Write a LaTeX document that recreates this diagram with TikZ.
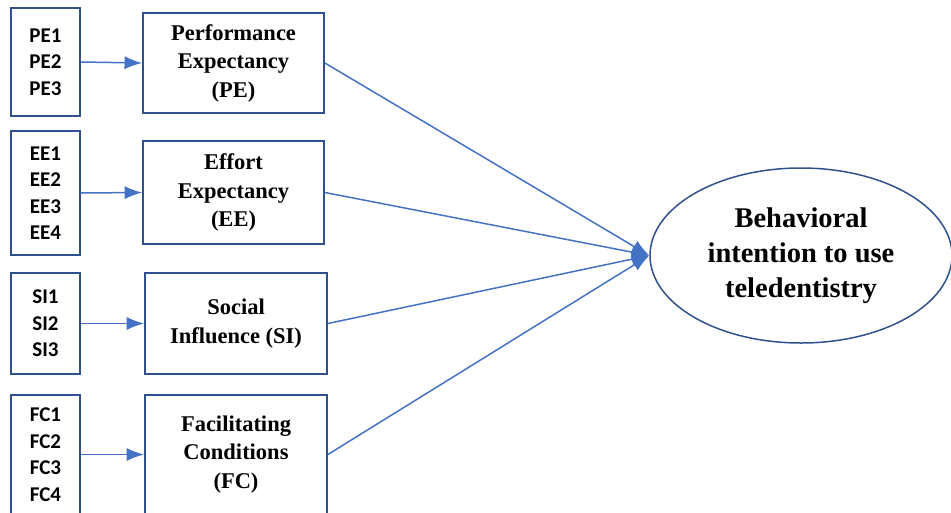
\documentclass[tikz,border=0pt]{standalone}
\usepackage{fontspec}
\setmainfont{Liberation Serif}
\newfontfamily\itemfont{Carlito}
\usepackage{tikz}
\usetikzlibrary{arrows.meta,shapes.geometric}
\definecolor{boxblue}{RGB}{47,82,143}
\definecolor{linkblue}{RGB}{68,114,196}
\tikzset{every picture/.style={/utils/exec={\bfseries}}}
\tikzstyle{link}=[linkblue,line width=1.5pt]
\tikzstyle{arrow}=[link,-{Latex[scale=1.8]}]
\tikzstyle{itembox}=[draw=boxblue,line width=1.8pt,minimum width=69pt,inner sep=0pt,
  align=left,font=\fontsize{21}{26.5}\itemfont\bfseries]
\tikzstyle{factorbox}=[draw=boxblue,line width=1.8pt,inner sep=0pt,align=center,
  font=\fontsize{22.5}{28.5}\selectfont\bfseries]
\tikzstyle{outcome}=[ellipse,draw=boxblue,line width=1.5pt,inner sep=0pt,align=center,
  minimum width=302pt,minimum height=175pt,font=\fontsize{28.5}{35}\selectfont\bfseries]

\begin{document}
\begin{tikzpicture}[x=1pt,y=-1pt]
    \useasboundingbox (0,0) rectangle (951,512);
    \clip (0,0) rectangle (951,512);
    % indicators
    \node[itembox,minimum height=108pt] (PE-items) at (45.5,62)  {PE1\\PE2\\PE3};
    \node[itembox,minimum height=124pt] (EE-items) at (45.5,193) {EE1\\EE2\\EE3\\EE4};
    \node[itembox,minimum height=101pt] (SI-items) at (45.5,323.5) {SI1\\SI2\\SI3};
    \node[itembox,minimum height=119pt] (FC-items) at (45.5,454.5) {FC1\\FC2\\FC3\\FC4};
    % constructs
    \node[factorbox,minimum width=181pt,minimum height=100pt] (PE) at (233.5,63)
      {Performance\\Expectancy\\(PE)};
    \node[factorbox,minimum width=181pt,minimum height=103pt] (EE) at (233.5,192.5)
      {Effort\\Expectancy\\(EE)};
    \node[factorbox,minimum width=182pt,minimum height=101pt] (SI) at (236,323.5)
      {Social\\Influence (SI)};
    \node[factorbox,minimum width=182pt,minimum height=119pt] (FC) at (236,454.5)
      {Facilitating\\Conditions\\(FC)};
    \node[outcome] (BI) at (801,255.5) {Behavioral\\intention to use\\teledentistry};
    \foreach \c in {PE,EE,SI,FC} {
      \draw[arrow] (\c-items.east) -- (\c.west);
      \draw[arrow] (\c.east) -- (BI.west);
    }
  \end{tikzpicture}
\end{document}
